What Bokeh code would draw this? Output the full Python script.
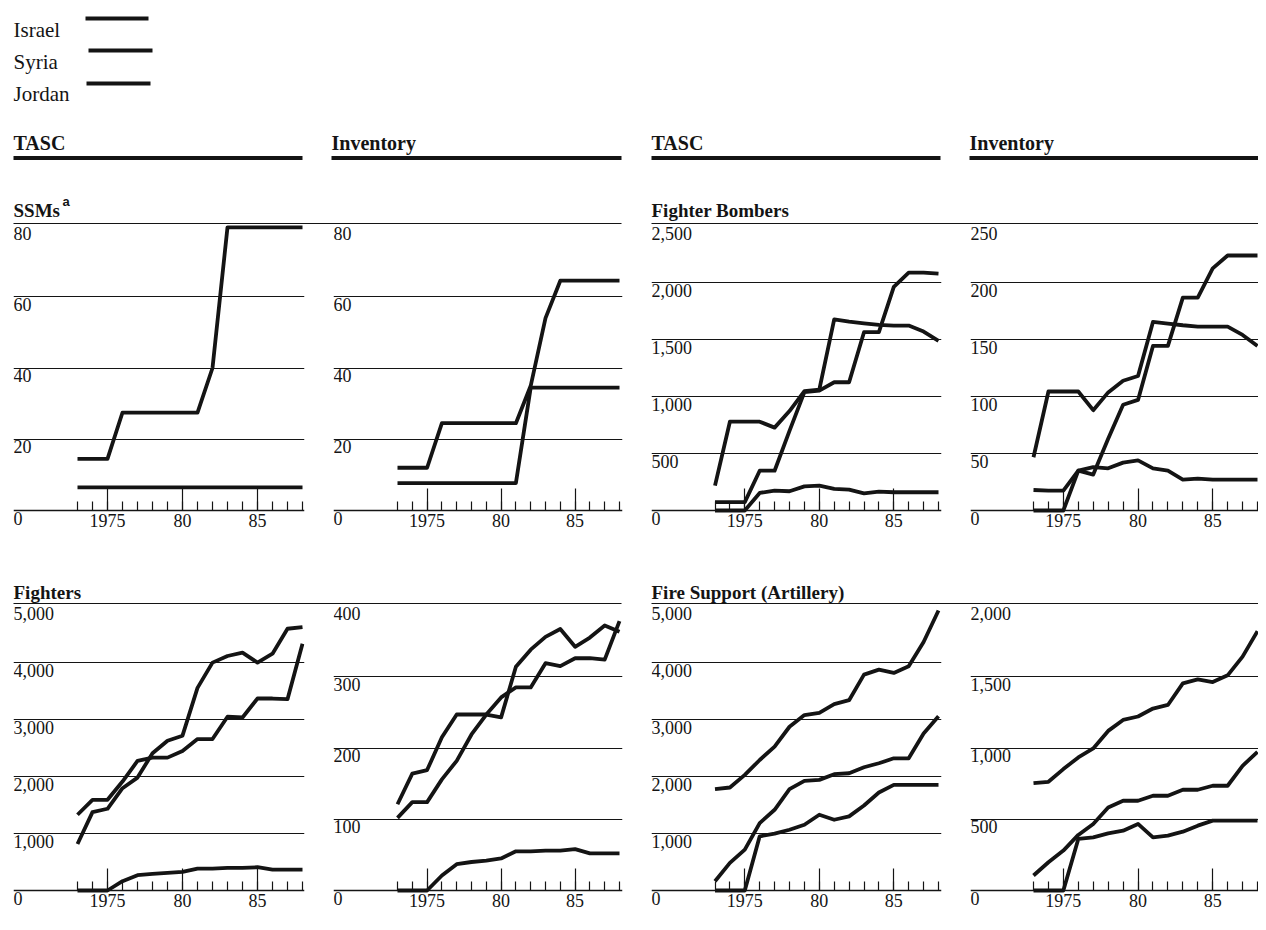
from bokeh.plotting import figure
from bokeh.layouts import column, row
from bokeh.models import Range1d, FixedTicker, LabelSet, ColumnDataSource
from bokeh.embed import file_html
from bokeh.resources import INLINE
from bokeh.core.properties import value

# ---------------- data ----------------
years = [1973, 1974, 1975, 1976, 1977, 1978, 1979, 1980,
         1981, 1982, 1983, 1984, 1985, 1986, 1987, 1988]
year_ticks = [1975, 1980, 1985]
year_tick_labels = ["1975", "80", "85"]

legend_names = ["Israel", "Syria", "Jordan"]
column_headers = ["TASC", "Inventory", "TASC", "Inventory"]
section_titles = ["SSMs", "Fighter Bombers", "Fighters", "Fire Support (Artillery)"]
footnote_mark = "a"

# SSMs
ssm_ticks = [0, 20, 40, 60, 80]
ssm_labels = ["0", "20", "40", "60", "80"]
ssm_tasc_syria = [14.5, 14.5, 14.5, 27.5, 27.5, 27.5, 27.5, 27.5, 27.5, 40, 79.5, 79.5, 79.5, 79.5, 79.5, 79.5]
ssm_tasc_israel = [6.5, 6.5, 6.5, 6.5, 6.5, 6.5, 6.5, 6.5, 6.5, 6.5, 6.5, 6.5, 6.5, 6.5, 6.5, 6.5]
ssm_inv_syria = [12, 12, 12, 24.5, 24.5, 24.5, 24.5, 24.5, 24.5, 35, 54, 64.5, 64.5, 64.5, 64.5, 64.5]
ssm_inv_israel = [7.7, 7.7, 7.7, 7.7, 7.7, 7.7, 7.7, 7.7, 7.7, 34.5, 34.5, 34.5, 34.5, 34.5, 34.5, 34.5]

# Fighter bombers
fb_tasc_ticks = [0, 500, 1000, 1500, 2000, 2500]
fb_tasc_labels = ["0", "500", "1,000", "1,500", "2,000", "2,500"]
fb_tasc_syria = [218, 779, 779, 779, 727, 872, 1047, 1061, 1677, 1657, 1642, 1628, 1622, 1622, 1570, 1488]
fb_tasc_israel = [73, 73, 73, 349, 349, 698, 1038, 1052, 1125, 1125, 1564, 1564, 1962, 2087, 2087, 2078]
fb_tasc_jordan = [0, 0, 0, 154, 174, 169, 212, 218, 189, 183, 151, 166, 160, 160, 160, 160]

fb_inv_ticks = [0, 50, 100, 150, 200, 250]
fb_inv_labels = ["0", "50", "100", "150", "200", "250"]
fb_inv_syria = [46.7, 104.4, 104.4, 104.4, 88, 103.6, 113.8, 118, 165.4, 164, 162.5, 161.3, 161.3, 161.3, 154, 144.4]
fb_inv_israel = [0, 0, 0, 35, 31.5, 63, 92.8, 97, 144.4, 144.4, 186.7, 186.7, 212.4, 223.7, 223.7, 223.7]
fb_inv_jordan = [18, 17.5, 17.5, 35, 38, 37, 42, 44, 37, 35, 27, 28, 27, 27, 27, 27]

# Fighters
ftr_tasc_ticks = [0, 1000, 2000, 3000, 4000, 5000]
ftr_tasc_labels = ["0", "1,000", "2,000", "3,000", "4,000", "5,000"]
ftr_tasc_syria = [1329, 1591, 1591, 1911, 2273, 2331, 2331, 2448, 2657, 2657, 3048, 3036, 3368, 3368, 3357, 4330]
ftr_tasc_israel = [816, 1375, 1434, 1795, 1981, 2407, 2628, 2716, 3555, 3998, 4114, 4172, 3998, 4155, 4592, 4621]
ftr_tasc_jordan = [0, 0, 0, 163, 268, 291, 309, 326, 385, 385, 396, 396, 408, 367, 367, 367]

ftr_inv_ticks = [0, 100, 200, 300, 400]
ftr_inv_labels = ["0", "100", "200", "300", "400"]
ftr_inv_syria = [121, 164, 169, 215, 247, 247, 247, 243, 314, 338, 356, 367, 342, 355, 372, 363]
ftr_inv_israel = [102, 124, 124, 156, 182, 219, 247, 271, 285, 285, 319, 315, 326, 326, 324, 378]
ftr_inv_jordan = [0, 0, 0, 21, 37, 40, 42, 45, 55, 55, 56, 56, 58, 52, 52, 52]

# Fire support (artillery)
art_tasc_ticks = [0, 1000, 2000, 3000, 4000, 5000]
art_tasc_labels = ["0", "1,000", "2,000", "3,000", "4,000", "5,000"]
art_tasc_syria = [1778, 1807, 2028, 2290, 2523, 2873, 3077, 3118, 3269, 3339, 3788, 3875, 3817, 3933, 4359, 4913]
art_tasc_israel = [163, 484, 717, 1183, 1416, 1777, 1923, 1941, 2040, 2057, 2162, 2232, 2319, 2319, 2756, 3059]
art_tasc_jordan = [0, 0, 0, 950, 997, 1066, 1154, 1329, 1241, 1300, 1492, 1719, 1853, 1853, 1853, 1853]

art_inv_ticks = [0, 500, 1000, 1500, 2000]
art_inv_labels = ["0", "500", "1,000", "1,500", "2,000"]
art_inv_syria = [754, 763, 852, 934, 997, 1120, 1197, 1221, 1277, 1302, 1454, 1482, 1463, 1510, 1641, 1820]
art_inv_israel = [105, 198, 280, 390, 467, 583, 630, 630, 665, 665, 707, 707, 735, 735, 875, 973]
art_inv_jordan = [0, 0, 0, 362, 373, 401, 420, 467, 373, 385, 413, 455, 490, 490, 490, 490]

# ---------------- style / layout ----------------
FONT = "Liberation Serif"
INK = "#141414"
LINE_W = 3.8
PAGE_W = 1258

# column geometry in page pixels
COLS = [
    dict(fig_x=0, fig_w=320, frame_l=13, frame_r=304, x73=77, x88=302),
    dict(fig_x=320, fig_w=320, frame_l=333, frame_r=622, x73=397, x88=619),
    dict(fig_x=640, fig_w=310, frame_l=651, frame_r=941, x73=714.5, x88=938),
    dict(fig_x=950, fig_w=308, frame_l=970, frame_r=1258, x73=1033, x88=1257),
]
SPAN_PX = 285.0   # pixels from zero line to top tick
TOP_PAD = 1.0     # pixels above top tick inside frame
BELOW_PX = 26.0   # pixels below zero line inside frame (room for labels)


def make_panel(col, ticks, labels, series, fig_h):
    top = ticks[-1]
    ppu = SPAN_PX / top
    pxyr = (col["x88"] - col["x73"]) / 15.0
    xs = 1973 - (col["x73"] - col["frame_l"]) / pxyr
    xe = 1973 + (col["frame_r"] - col["x73"]) / pxyr
    bl = col["frame_l"] - col["fig_x"]
    br = col["fig_x"] + col["fig_w"] - col["frame_r"]
    frame_h = TOP_PAD + SPAN_PX + BELOW_PX
    p = figure(width=col["fig_w"], height=fig_h,
               x_range=Range1d(xs, xe),
               y_range=Range1d(-BELOW_PX / ppu, top + TOP_PAD / ppu),
               x_axis_location="below", y_axis_location=None, title=None,
               toolbar_location=None, output_backend="svg",
               min_border_left=bl, min_border_right=br,
               min_border_top=0, min_border_bottom=int(fig_h - frame_h))
    p.outline_line_color = None
    p.background_fill_color = "white"
    p.border_fill_color = "white"

    p.xgrid.visible = False
    p.ygrid.ticker = FixedTicker(ticks=ticks[1:-1])
    p.ygrid.grid_line_color = INK
    p.ygrid.grid_line_width = 1.1

    ax = p.xaxis[0]
    ax.fixed_location = 0
    ax.ticker = FixedTicker(ticks=year_ticks, minor_ticks=years)
    ax.major_label_overrides = {t: l for t, l in zip(year_ticks, year_tick_labels)}
    ax.major_tick_in = 22
    ax.major_tick_out = 0
    ax.minor_tick_in = 9
    ax.minor_tick_out = 0
    ax.axis_line_color = INK
    ax.axis_line_width = 1.5
    ax.major_tick_line_color = INK
    ax.major_tick_line_width = 1.2
    ax.minor_tick_line_color = INK
    ax.minor_tick_line_width = 1.2
    ax.major_label_text_font = FONT
    ax.major_label_text_font_size = "18px"
    ax.major_label_text_color = INK
    ax.major_label_standoff = 3

    for s in series:
        p.line(years, s, line_width=LINE_W, line_color=INK, line_join="round")

    src = ColumnDataSource(dict(x=[xs] * len(ticks), y=ticks, t=labels))
    p.add_layout(LabelSet(x="x", y="y", text="t", source=src,
                          text_align="left", text_baseline="top", y_offset=-1,
                          text_font=value(FONT), text_font_size=value("18px"),
                          text_color=INK))
    return p


def make_header(height, y_top):
    p = figure(width=PAGE_W, height=height,
               x_range=Range1d(0, PAGE_W), y_range=Range1d(y_top + height, y_top),
               x_axis_location=None, y_axis_location=None, title=None,
               toolbar_location=None, output_backend="svg", min_border=0)
    p.xgrid.visible = False
    p.ygrid.visible = False
    p.outline_line_color = None
    p.background_fill_color = "white"
    p.border_fill_color = "white"
    return p


# header 1: legend, column headers, row-1 section titles
h1 = make_header(224, 0)
h1.text(x=[13, 13, 13], y=[29, 61, 93], text=legend_names,
        text_font=value(FONT), text_font_size=value("21px"), text_color=INK,
        text_baseline="alphabetic", text_align="left")
h1.segment(x0=[85, 88, 86], y0=[18, 50, 83], x1=[148, 152, 150], y1=[18, 50, 83],
           line_width=4, line_color=INK)
h1.text(x=[13, 331, 651, 969], y=[142, 142, 142, 142], text=column_headers,
        text_font=value(FONT), text_font_size=value("20px"), text_font_style="bold",
        text_color=INK, text_baseline="alphabetic", text_align="left")
h1.segment(x0=[13, 331, 651, 969], y0=[157.5] * 4, x1=[302, 621, 940, 1258], y1=[157.5] * 4,
           line_width=4.2, line_color=INK)
h1.text(x=[13, 651], y=[210, 210], text=[section_titles[0], section_titles[1]],
        text_font=value(FONT), text_font_size=value("19px"), text_font_style="bold",
        text_color=INK, text_baseline="alphabetic", text_align="left")
h1.text(x=[62], y=[201], text=[footnote_mark],
        text_font=value("Liberation Sans"), text_font_size=value("13px"), text_font_style="bold",
        text_color=INK, text_baseline="alphabetic", text_align="left")
h1.segment(x0=[13, 651], y0=[223.2, 223.2], x1=[621, 1258], y1=[223.2, 223.2],
           line_width=1.3, line_color=INK)

# header 2: row-2 section titles
h2 = make_header(64, 540)
h2.text(x=[13, 651], y=[592, 592], text=[section_titles[2], section_titles[3]],
        text_font=value(FONT), text_font_size=value("19px"), text_font_style="bold",
        text_color=INK, text_baseline="alphabetic", text_align="left")
h2.segment(x0=[13, 651], y0=[603.2, 603.2], x1=[621, 1258], y1=[603.2, 603.2],
           line_width=1.3, line_color=INK)

row1 = row(
    make_panel(COLS[0], ssm_ticks, ssm_labels, [ssm_tasc_syria, ssm_tasc_israel], 316),
    make_panel(COLS[1], ssm_ticks, ssm_labels, [ssm_inv_syria, ssm_inv_israel], 316),
    make_panel(COLS[2], fb_tasc_ticks, fb_tasc_labels, [fb_tasc_syria, fb_tasc_israel, fb_tasc_jordan], 316),
    make_panel(COLS[3], fb_inv_ticks, fb_inv_labels, [fb_inv_syria, fb_inv_israel, fb_inv_jordan], 316),
)
row2 = row(
    make_panel(COLS[0], ftr_tasc_ticks, ftr_tasc_labels, [ftr_tasc_syria, ftr_tasc_israel, ftr_tasc_jordan], 314),
    make_panel(COLS[1], ftr_inv_ticks, ftr_inv_labels, [ftr_inv_syria, ftr_inv_israel, ftr_inv_jordan], 314),
    make_panel(COLS[2], art_tasc_ticks, art_tasc_labels, [art_tasc_syria, art_tasc_israel, art_tasc_jordan], 314),
    make_panel(COLS[3], art_inv_ticks, art_inv_labels, [art_inv_syria, art_inv_israel, art_inv_jordan], 314),
)

layout = column(h1, row1, h2, row2)
open("out.html", "w").write(file_html(layout, INLINE))
